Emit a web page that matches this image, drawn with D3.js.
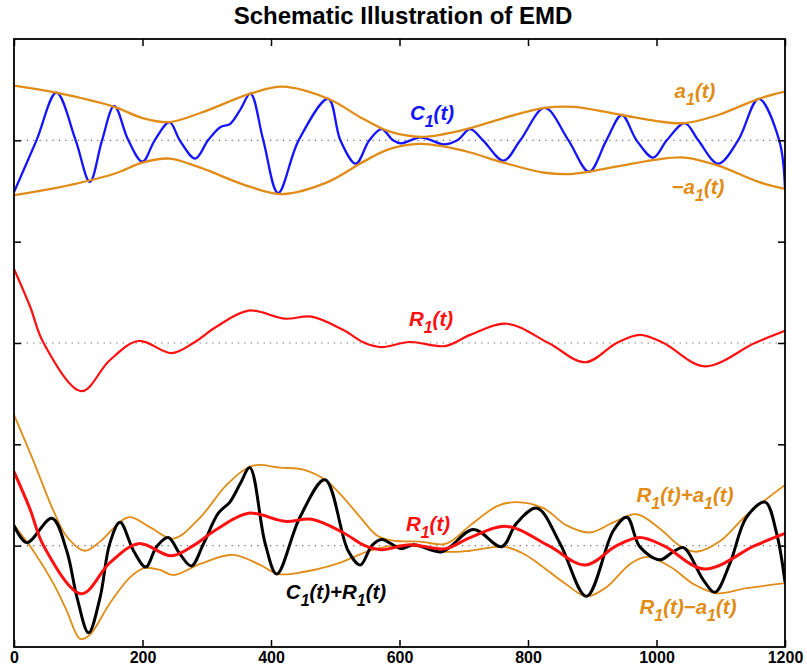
<!DOCTYPE html>
<html>
<head>
<meta charset="utf-8">
<script src="https://cdn.jsdelivr.net/npm/d3@7"></script>
<style>
  body { margin: 0; background: #fff; }
  text { font-family: "Liberation Sans", Arial, sans-serif; }
</style>
</head>
<body>
<svg id="chart" width="807" height="672"></svg>
<script>
// valeurs : [t, valeur] autour de la ligne pointillée de chaque panneau
const c1 = [[0,-0.51],[35,0],[66,0.47],[96,0],[118,-0.41],[137,0],[156,0.34],[178,0],[200,-0.21],[219,0],
  [242,0.18],[258,0],[282,-0.18],[302,0],[321,0.13],[336,0.16],[352,0.30],[368,0.46],[388,0],[411,-0.52],
  [443,0],[489,0.41],[508,0],[532,-0.23],[553,0],[572,0.11],[590,0],[602,-0.03],[617,0],[632,0.03],[650,0],
  [668,-0.04],[690,0],[710,0.11],[730,0],[762,-0.2],[788,0],[826,0.32],[863,0],[895,-0.31],[922,0],[946,0.25],
  [969,0],[995,-0.17],[1016,0],[1044,0.17],[1065,0],[1096,-0.23],[1127,0],[1159,0.41],[1191,0],[1200,-0.48]];

const a1 = [[0,0.54],[66,0.47],[156,0.33],[200,0.22],[242,0.18],[290,0.27],[368,0.46],[418,0.53],
  [489,0.41],[544,0.21],[585,0.085],[632,0.035],[668,0.06],[710,0.12],[762,0.22],[826,0.32],[871,0.33],
  [946,0.25],[1000,0.19],[1044,0.17],[1096,0.25],[1159,0.41],[1200,0.48]];

const r1 = [[0,0.73],[25,0.36],[46,0],[105,-0.475],[149,-0.17],[194,0.02],[245,-0.10],[279,0],[315,0.16],
  [365,0.32],[422,0.24],[463,0.26],[512,0.13],[546,0],[572,-0.04],[616,0.01],[671,-0.03],[710,0.08],
  [767,0.19],[832,0],[889,-0.19],[938,0],[974,0.08],[1011,0],[1075,-0.23],[1153,0],[1200,0.12]];

const c1r1 = [[0,0.20],[20,0.03],[59,0.27],[82,-0.05],[98,-0.51],[116,-0.86],[134,-0.51],[149,0.02],[165,0.23],
  [186,-0.05],[205,-0.21],[222,-0.01],[240,0.08],[258,-0.08],[276,-0.20],[295,0.02],[318,0.32],[336,0.43],
  [352,0.61],[367,0.77],[391,0.02],[409,-0.28],[445,0.28],[484,0.65],[520,-0.05],[539,-0.19],[557,0],
  [572,0.06],[603,-0.03],[622,0.01],[666,-0.06],[715,0.16],[759,-0.01],[782,0.22],[814,0.37],[850,0.02],
  [891,-0.50],[933,0.15],[954,0.28],[974,-0.01],[1005,-0.14],[1026,-0.06],[1042,-0.02],[1073,-0.34],
  [1091,-0.46],[1114,-0.18],[1140,0.28],[1169,0.43],[1187,0.12],[1200,-0.36]];

const r1PlusA1 = [[0,1.29],[30,0.84],[61,0.35],[82,0.09],[110,-0.05],[134,0.04],[178,0.28],[212,0.18],
  [248,0.07],[290,0.28],[331,0.60],[372,0.79],[414,0.77],[450,0.75],[484,0.65],[512,0.48],[539,0.28],
  [565,0.10],[590,0.05],[632,0.04],[673,0.02],[710,0.20],[752,0.39],[782,0.43],[824,0.37],[860,0.20],
  [896,0.13],[933,0.23],[969,0.31],[1005,0.17],[1036,0],[1062,-0.06],[1098,0.04],[1140,0.30],[1200,0.60]];

const r1MinusA1 = [[0,0.20],[30,-0.05],[61,-0.37],[82,-0.64],[103,-0.92],[118,-0.88],[149,-0.57],[181,-0.31],
  [204,-0.22],[227,-0.24],[248,-0.29],[290,-0.18],[341,-0.09],[383,-0.19],[411,-0.28],[450,-0.26],
  [502,-0.18],[554,-0.05],[590,0],[632,-0.01],[668,-0.06],[710,-0.05],[762,-0.01],[793,-0.08],[819,-0.19],
  [855,-0.36],[891,-0.50],[922,-0.41],[959,-0.18],[985,-0.11],[1022,-0.21],[1058,-0.38],[1094,-0.47],
  [1140,-0.42],[1200,-0.37]];

const xTicks = [0, 200, 400, 600, 800, 1000, 1200];
const yTicks = [-2, -1, 0, 1, 2];
const panelBase = [2, 0, -2]; // haut, milieu, bas

const orange = "#e08c16";

const svg = d3.select("#chart");
const margin = { top: 39, right: 22, bottom: 25, left: 14 };
const W = 807 - margin.left - margin.right;
const H = 672 - margin.top - margin.bottom;

const x = d3.scaleLinear().domain([0, 1200]).range([0, W]);
const y = d3.scaleLinear().domain([-3, 3]).range([H, 0]);

const g = svg.append("g").attr("transform", `translate(${margin.left},${margin.top})`);

// titre
svg.append("text")
  .attr("x", 403).attr("y", 24)
  .attr("text-anchor", "middle")
  .style("font-size", "24px").style("font-weight", "bold")
  .text("Schematic Illustration of EMD");

g.append("clipPath").attr("id", "clip")
  .append("rect").attr("width", W).attr("height", H);

// lignes pointillées du zéro de chaque panneau
panelBase.forEach(b => {
  g.append("line")
    .attr("x1", 0).attr("x2", W)
    .attr("y1", y(b)).attr("y2", y(b))
    .attr("stroke", "#666").attr("stroke-width", 1.2)
    .attr("stroke-dasharray", "1.2,5.2");
});

const plot = g.append("g").attr("clip-path", "url(#clip)");

function drawLine(data, base, color, width, sign = 1) {
  const line = d3.line()
    .x(d => x(d[0]))
    .y(d => y(base + sign * d[1]))
    .curve(d3.curveCatmullRom.alpha(0.5));
  plot.append("path")
    .datum(data)
    .attr("d", line)
    .attr("fill", "none")
    .attr("stroke", color)
    .attr("stroke-width", width)
    .attr("stroke-linejoin", "round");
}

// panneau du haut : C1 et son enveloppe ±a1
drawLine(c1, panelBase[0], "#1414ff", 2.3);
drawLine(a1, panelBase[0], orange, 2.3);
drawLine(a1, panelBase[0], orange, 2.3, -1);

// panneau du milieu : R1
drawLine(r1, panelBase[1], "#ff1010", 2.2);

// panneau du bas
drawLine(r1PlusA1, panelBase[2], orange, 1.8);
drawLine(r1MinusA1, panelBase[2], orange, 1.8);
drawLine(c1r1, panelBase[2], "#000", 3);
drawLine(r1, panelBase[2], "#ff1010", 3);

// axes avec graduations vers l'intérieur
const tick = 7;
g.append("g").attr("transform", `translate(0,${H})`)
  .call(d3.axisBottom(x).tickValues(xTicks).tickSizeInner(-tick).tickSizeOuter(0)
    .tickPadding(5).tickFormat(d3.format("d")))
  .call(a => a.selectAll("text").style("font-size", "16px").style("font-weight", "bold")
    .style("font-family", "'Liberation Sans', Arial, sans-serif").attr("fill", "#000"));
g.append("g")
  .call(d3.axisTop(x).tickValues(xTicks).tickSizeInner(-tick).tickSizeOuter(0).tickFormat(""));
g.append("g")
  .call(d3.axisLeft(y).tickValues(yTicks).tickSizeInner(-tick).tickSizeOuter(0).tickFormat(""));
g.append("g").attr("transform", `translate(${W},0)`)
  .call(d3.axisRight(y).tickValues(yTicks).tickSizeInner(-tick).tickSizeOuter(0).tickFormat(""));
g.selectAll(".domain").remove();
g.selectAll(".tick line").attr("stroke", "#000").attr("stroke-width", 1.5);

g.append("rect")
  .attr("width", W).attr("height", H)
  .attr("fill", "none").attr("stroke", "#000").attr("stroke-width", 1.8);

// étiquettes avec indices
function label(px, py, parts, color, size) {
  const t = svg.append("text")
    .attr("x", px).attr("y", py)
    .attr("text-anchor", "middle")
    .attr("fill", color)
    .style("font-size", size + "px")
    .style("font-weight", "bold").style("font-style", "italic");
  let down = false;
  parts.forEach(p => {
    if (p.sub) {
      t.append("tspan").text(p.sub)
        .attr("dy", size * 0.35).style("font-size", (size * 0.78) + "px");
      down = true;
    } else {
      const s = t.append("tspan").text(p.txt);
      if (down) { s.attr("dy", -size * 0.35); down = false; }
    }
  });
}

label(432, 120, [{txt: "C"}, {sub: "1"}, {txt: "(t)"}], "#1414ff", 20.5);
label(695, 98, [{txt: "a"}, {sub: "1"}, {txt: "(t)"}], orange, 20.5);
label(698, 194, [{txt: "\u2212a"}, {sub: "1"}, {txt: "(t)"}], orange, 20.5);
label(431, 326, [{txt: "R"}, {sub: "1"}, {txt: "(t)"}], "#ff1010", 20.5);
label(428, 531, [{txt: "R"}, {sub: "1"}, {txt: "(t)"}], "#ff1010", 20.5);
label(336, 599, [{txt: "C"}, {sub: "1"}, {txt: "(t)+R"}, {sub: "1"}, {txt: "(t)"}], "#000", 20.5);
label(685, 502, [{txt: "R"}, {sub: "1"}, {txt: "(t)+a"}, {sub: "1"}, {txt: "(t)"}], orange, 20.5);
label(688, 614, [{txt: "R"}, {sub: "1"}, {txt: "(t)\u2212a"}, {sub: "1"}, {txt: "(t)"}], orange, 20.5);
</script>
</body>
</html>
